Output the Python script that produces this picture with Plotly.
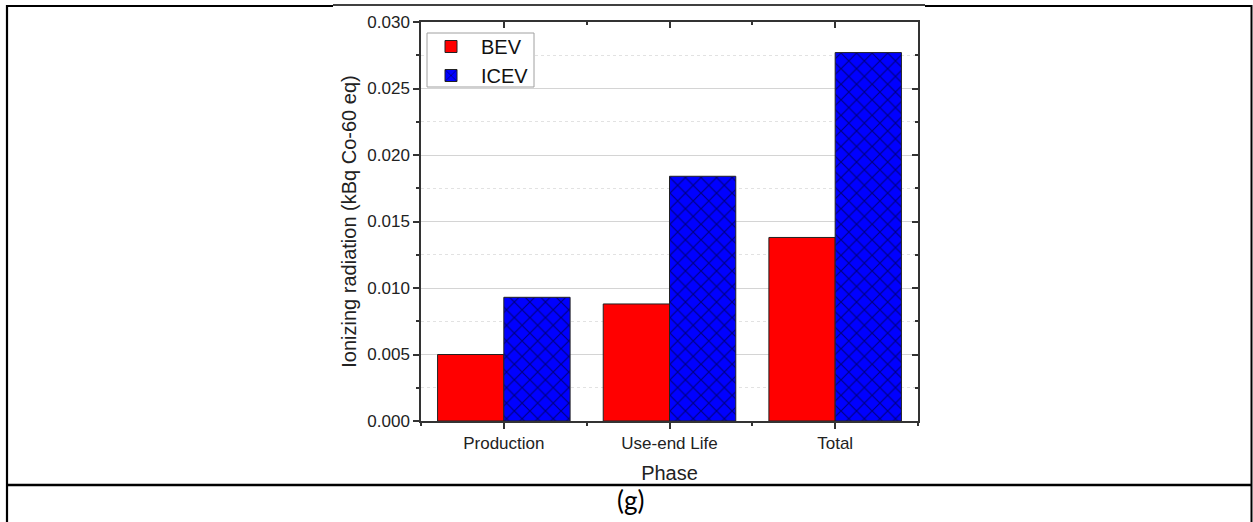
import plotly.graph_objects as go

# ---- data ----
phases = ["Production", "Use-end Life", "Total"]
bev = [0.0050, 0.0088, 0.0138]
icev = [0.0093, 0.0184, 0.0277]
y_ticks = [0.000, 0.005, 0.010, 0.015, 0.020, 0.025, 0.030]
y_tick_labels = ["0.000", "0.005", "0.010", "0.015", "0.020", "0.025", "0.030"]

W, H = 1253, 522
L, R, T, B = 421, 918, 22, 421  # plot area in pixels


def px(x):
    return (x - L) / (R - L)


def py(y):
    return (B - y) / (B - T)


FONT = "Liberation Sans, Arial, sans-serif"
pos = list(range(len(phases)))

fig = go.Figure()
fig.add_trace(go.Bar(
    x=pos, y=bev, name="BEV",
    marker=dict(color="#FF0000", line=dict(color="#222222", width=1)),
))
fig.add_trace(go.Bar(
    x=pos, y=icev, name="ICEV",
    marker=dict(color="#0000FF", line=dict(color="#222222", width=1),
                pattern=dict(shape="x", fgcolor="#000000", bgcolor="#0000FF",
                             size=11, solidity=0.2, fillmode="overlay")),
))
# invisible helper trace for the mirrored (top/right) axes
fig.add_trace(go.Scatter(x=[None], y=[None], xaxis="x2", yaxis="y2",
                         showlegend=False, hoverinfo="skip"))

axis_color = "#333333"
fig.update_layout(
    width=W, height=H, autosize=False,
    margin=dict(l=L, r=W - R, t=T, b=H - B, pad=0),
    paper_bgcolor="white", plot_bgcolor="white",
    barmode="group", bargap=0.2, bargroupgap=0,
    font=dict(family=FONT, color="#222222"),
    showlegend=True,
    legend=dict(x=px(421), y=py(27), xanchor="left", yanchor="top",
                borderwidth=0, bgcolor="rgba(0,0,0,0)",
                font=dict(size=20, family=FONT, color="#111111"),
                tracegroupgap=0, itemwidth=50),
    xaxis=dict(
        range=[-0.5, 2.5], tickmode="array", tickvals=pos, ticktext=phases,
        showline=True, linecolor=axis_color, linewidth=1.5,
        ticks="outside", ticklen=6, tickwidth=1.5, tickcolor=axis_color,
        minor=dict(tickmode="array", tickvals=[-0.5, 0.5, 1.5, 2.5], ticks="outside",
                   ticklen=3, tickwidth=1.5, tickcolor=axis_color, showgrid=False),
        showgrid=False, zeroline=False,
        tickfont=dict(size=17, family=FONT, color="#222222"),
        title=dict(text="Phase", font=dict(size=20, family=FONT, color="#222222"), standoff=14),
    ),
    yaxis=dict(
        range=[0, 0.030], tickmode="array", tickvals=y_ticks, ticktext=y_tick_labels,
        showline=True, linecolor=axis_color, linewidth=1.5,
        ticks="outside", ticklen=6, tickwidth=1.5, tickcolor=axis_color,
        showgrid=True, gridcolor="#d4d4d4", gridwidth=1,
        minor=dict(dtick=0.0025, tick0=0, ticks="outside", ticklen=3, tickwidth=1.5,
                   tickcolor=axis_color, showgrid=True, gridcolor="#e2e2e2",
                   griddash="dot", gridwidth=1),
        zeroline=False,
        tickfont=dict(size=17, family=FONT, color="#222222"),
        title=dict(text="Ionizing radiation (kBq Co-60 eq)",
                   font=dict(size=20, family=FONT, color="#222222"), standoff=5),
    ),
    xaxis2=dict(
        overlaying="x", side="top", matches="x", range=[-0.5, 2.5],
        tickmode="array", tickvals=pos, showticklabels=False,
        showline=True, linecolor=axis_color, linewidth=1.5,
        ticks="inside", ticklen=6, tickwidth=1.5, tickcolor=axis_color,
        minor=dict(tickmode="array", tickvals=[0.5, 1.5], ticks="inside",
                   ticklen=3, tickwidth=1.5, tickcolor=axis_color, showgrid=False),
        showgrid=False, zeroline=False,
    ),
    yaxis2=dict(
        overlaying="y", side="right", matches="y", range=[0, 0.030],
        tickmode="array", tickvals=y_ticks, showticklabels=False,
        showline=True, linecolor=axis_color, linewidth=1.5,
        ticks="inside", ticklen=6, tickwidth=1.5, tickcolor=axis_color,
        minor=dict(dtick=0.0025, tick0=0, ticks="inside", ticklen=3, tickwidth=1.5,
                   tickcolor=axis_color, showgrid=False),
        showgrid=False, zeroline=False,
    ),
)

# legend frame (white box behind the legend entries)
fig.add_shape(type="rect", xref="paper", yref="paper",
              x0=px(427), y0=py(87), x1=px(534), y1=py(33),
              line=dict(color="#a0a0a0", width=1), fillcolor="white", layer="above")

# document table frame around the figure
frame = [
    # (x0, y0, x1, y1, width)
    (7, 6, 333, 6, 2.2),
    (333, 5, 925, 5, 1.5),
    (925, 6, 1252, 6, 2.2),
    (7, 5, 7, 530, 2.2),
    (1251.5, 5, 1251.5, 530, 2),
    (7, 485, 1252, 485, 2.6),
]
for x0, y0, x1, y1, w in frame:
    fig.add_shape(type="line", xref="paper", yref="paper",
                  x0=px(x0), y0=py(y0), x1=px(x1), y1=py(y1),
                  line=dict(color="black", width=w), layer="above")

fig.add_annotation(text="(g)", xref="paper", yref="paper",
                   x=px(630), y=py(500), xanchor="center", yanchor="middle",
                   showarrow=False,
                   font=dict(size=26, family="Lato, Carlito, sans-serif", color="#000000"))

fig.write_html("out.html", config={"displayModeBar": False},
               post_script="document.body.style.margin='0px';document.body.style.overflow='hidden';")
